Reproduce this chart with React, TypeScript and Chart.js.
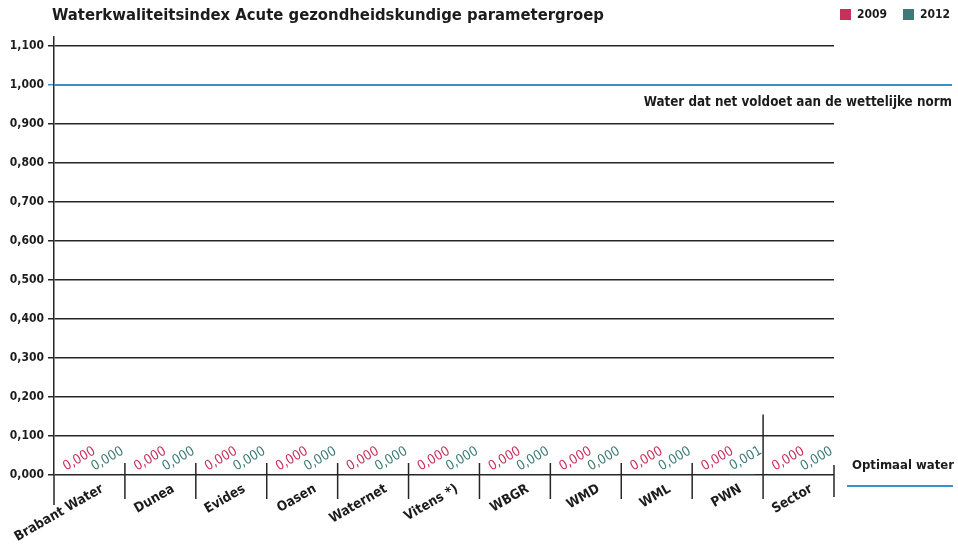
import React, { useEffect, useRef } from "react";
import { Chart, registerables } from "chart.js";

Chart.register(...registerables);

const TITLE = "Waterkwaliteitsindex Acute gezondheidskundige parametergroep";
const categories = [
  "Brabant Water", "Dunea", "Evides", "Oasen", "Waternet", "Vitens *)",
  "WBGR", "WMD", "WML", "PWN", "Sector",
];
const series2009 = [0, 0, 0, 0, 0, 0, 0, 0, 0, 0, 0];
const series2012 = [0, 0, 0, 0, 0, 0, 0, 0, 0, 0.001, 0];
const seriesLabels = ["2009", "2012"];
const yTickValues = [0, 0.1, 0.2, 0.3, 0.4, 0.5, 0.6, 0.7, 0.8, 0.9, 1.0, 1.1];
const NORM_VALUE = 1.0;
const NORM_LABEL = "Water dat net voldoet aan de wettelijke norm";
const OPTIMAL_LABEL = "Optimaal water";
const SECTOR_SEPARATOR_TOP = 0.155;

const PINK = "#c8305a";
const TEAL = "#3b7a76";
const BLUE = "#3a90c8";
const DARK = "#262626";
const TEXT = "#1c1c1c";
const FONT = "'DejaVu Sans Condensed', 'DejaVu Sans', sans-serif";

const fmt = (v: number) => v.toFixed(3).replace(".", ",");

const overlayPlugin = {
  id: "overlay",
  afterDraw(chart: any) {
    const ctx = chart.ctx;
    const xs = chart.scales.x;
    const ys = chart.scales.y;
    const area = chart.chartArea;
    const W = chart.width;
    const y0 = ys.getPixelForValue(0);
    const n = chart.data.labels.length;
    const step = xs.getPixelForValue(1) - xs.getPixelForValue(0);

    ctx.save();
    // category boundary ticks
    ctx.strokeStyle = DARK;
    ctx.lineWidth = 1.5;
    for (let i = 0; i <= n; i++) {
      const x = xs.getPixelForValue(0) - step / 2 + i * step;
      let top = y0 - 12;
      let bottom = y0 + 24;
      if (i === 0) { top = y0; bottom = y0 + 30; }
      if (i === n - 1) top = ys.getPixelForValue(SECTOR_SEPARATOR_TOP);
      if (i === n) { top = y0 - 10; bottom = y0 + 22; }
      ctx.beginPath();
      ctx.moveTo(x, top);
      ctx.lineTo(x, bottom);
      ctx.stroke();
    }

    // norm line
    const yn = ys.getPixelForValue(NORM_VALUE);
    ctx.strokeStyle = BLUE;
    ctx.lineWidth = 2;
    ctx.beginPath();
    ctx.moveTo(area.left, yn);
    ctx.lineTo(W - 6, yn);
    ctx.stroke();
    ctx.fillStyle = TEXT;
    ctx.font = `bold 13.3px ${FONT}`;
    ctx.textAlign = "right";
    ctx.textBaseline = "middle";
    ctx.fillText(NORM_LABEL, W - 6, yn + 18);

    // optimal water
    ctx.font = `bold 13px ${FONT}`;
    ctx.textAlign = "left";
    ctx.fillText(OPTIMAL_LABEL, 852, y0 - 9);
    ctx.beginPath();
    ctx.moveTo(847, y0 + 11);
    ctx.lineTo(W - 5, y0 + 11);
    ctx.stroke();

    // title
    ctx.font = `bold 16.5px ${FONT}`;
    ctx.fillStyle = TEXT;
    ctx.textAlign = "left";
    ctx.fillText(TITLE, 52, 16);

    // legend
    ctx.font = `bold 12px ${FONT}`;
    const legendX = [840, 903];
    chart.data.datasets.forEach((ds: any, i: number) => {
      ctx.fillStyle = ds.backgroundColor;
      ctx.fillRect(legendX[i], 9, 11, 11);
      ctx.fillStyle = TEXT;
      ctx.fillText(ds.label, legendX[i] + 17, 15);
    });

    // data labels
    ctx.font = `13.5px ${FONT}`;
    ctx.textAlign = "center";
    chart.data.datasets.forEach((ds: any, di: number) => {
      const meta = chart.getDatasetMeta(di);
      meta.data.forEach((el: any, j: number) => {
        ctx.save();
        ctx.translate(el.x + 4, el.y - 16);
        ctx.rotate((-30 * Math.PI) / 180);
        ctx.fillStyle = ds.backgroundColor;
        ctx.fillText(fmt(ds.data[j]), 0, 0);
        ctx.restore();
      });
    });
    ctx.restore();
  },
};

export default function App() {
  const ref = useRef<HTMLCanvasElement>(null);
  useEffect(() => {
    if (!ref.current) return;
    const chart = new Chart(ref.current, {
      type: "bar",
      data: {
        labels: categories,
        datasets: [
          { label: seriesLabels[0], data: series2009, backgroundColor: PINK },
          { label: seriesLabels[1], data: series2012, backgroundColor: TEAL },
        ],
      },
      options: {
        responsive: false,
        animation: false,
        devicePixelRatio: 1,
        layout: { padding: { top: 37, left: 0, right: 124, bottom: 0 } },
        plugins: { legend: { display: false }, title: { display: false }, tooltip: { enabled: false } },
        scales: {
          x: {
            grid: { display: false },
            border: { display: false },
            ticks: {
              autoSkip: false,
              minRotation: 30,
              maxRotation: 30,
              labelOffset: 13,
              padding: -2,
              color: TEXT,
              font: { family: FONT, size: 13.5, weight: "bold" },
            },
            afterFit: (s: any) => { s.height = 71; },
          },
          y: {
            min: 0,
            max: 1.123,
            afterBuildTicks: (s: any) => {
              s.ticks = yTickValues.map((v) => ({ value: v }));
            },
            grid: {
              color: (c: any) => (c.tick && Math.abs(c.tick.value - NORM_VALUE) < 1e-6 ? BLUE : DARK),
              lineWidth: 1.5,
              tickLength: 6,
            },
            border: { display: true, color: DARK, width: 1.5 },
            ticks: {
              padding: 4,
              color: TEXT,
              font: { family: FONT, size: 12, weight: "bold" },
              callback: (v: any) => fmt(Number(v)),
            },
            afterFit: (s: any) => { s.width = 54; },
          },
        },
      },
      plugins: [overlayPlugin],
    });
    return () => chart.destroy();
  }, []);
  return (
    <div style={{ position: "fixed", left: 0, top: 0, width: 958, height: 546, background: "#fff" }}>
      <canvas ref={ref} width={958} height={546} />
    </div>
  );
}
